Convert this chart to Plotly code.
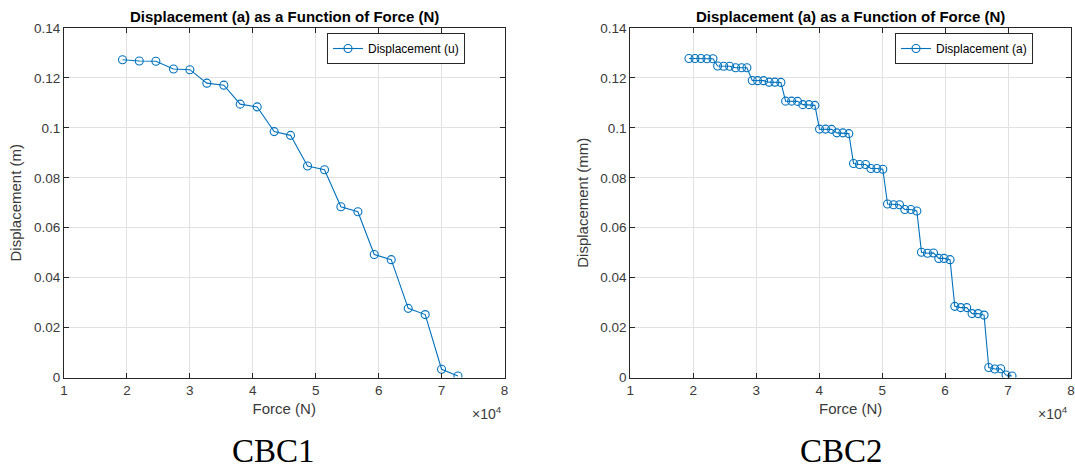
import plotly.graph_objects as go
from plotly.subplots import make_subplots

# ---------------- data ----------------
force_cbc1 = [19300, 21960, 24600, 27400, 30000, 32700, 35400, 38000, 40700, 43400, 46000,
              48700, 51400, 54000, 56700, 59300, 62000, 64700, 67400, 70000, 72600]
disp_cbc1 = [0.1273, 0.1268, 0.1267, 0.1236, 0.1233, 0.1179, 0.1171, 0.1095, 0.1084, 0.0985, 0.0970,
             0.0847, 0.0832, 0.0684, 0.0664, 0.0493, 0.0472, 0.0277, 0.0252, 0.0033, 0.0006]

force_cbc2 = [19320, 20270, 21220, 22170, 23130,
              23870, 24830, 25780, 26730, 27680, 28520,
              29370, 30220, 31170, 32060, 32970, 33920,
              34670, 35620, 36570, 37410, 38370, 39320,
              40060, 41020, 41970, 42810, 43760, 44710,
              45460, 46410, 47370, 48210, 49160, 50110,
              50860, 51810, 52760, 53600, 54560, 55510,
              56250, 57210, 58160, 59000, 59840, 60790,
              61540, 62490, 63440, 64290, 65240, 66190,
              66940, 67890, 68840, 69680, 70630]
disp_cbc2 = [0.1278, 0.1278, 0.1278, 0.1277, 0.1277,
             0.1248, 0.1247, 0.1247, 0.1241, 0.1241, 0.1241,
             0.1190, 0.1189, 0.1189, 0.1183, 0.1183, 0.1182,
             0.1107, 0.1107, 0.1106, 0.1093, 0.1093, 0.1090,
             0.0995, 0.0995, 0.0994, 0.0980, 0.0980, 0.0977,
             0.0857, 0.0853, 0.0853, 0.0837, 0.0837, 0.0834,
             0.0695, 0.0692, 0.0692, 0.0673, 0.0673, 0.0667,
             0.0502, 0.0498, 0.0499, 0.0477, 0.0477, 0.0472,
             0.0285, 0.0280, 0.0280, 0.0256, 0.0256, 0.0250,
             0.0040, 0.0034, 0.0035, 0.0010, 0.0006]

x_tickvals = [10000, 20000, 30000, 40000, 50000, 60000, 70000, 80000]
x_ticktext = ["1", "2", "3", "4", "5", "6", "7", "8"]
y_tickvals = [0, 0.02, 0.04, 0.06, 0.08, 0.1, 0.12, 0.14]
y_ticktext = ["0", "0.02", "0.04", "0.06", "0.08", "0.1", "0.12", "0.14"]

title_text = "Displacement (a) as a Function of Force (N)"
legend_names = ["Displacement (u)", "Displacement (a)"]
y_titles = ["Displacement (m)", "Displacement (mm)"]
x_title = "Force (N)"
captions = ["CBC1", "CBC2"]

# ---------------- layout constants ----------------
W, H = 1075, 468
BLUE = "#0072BD"
AX = "#262626"
TXT = "#3a3a3a"
GRID = "#e1e1e1"
FONT = "Liberation Sans, Arial, sans-serif"

left_px = [(64, 504.5), (630.3, 1071)]
caption_cx = [273, 841]
top_px, bot_px = 28, 377.5

fig = make_subplots(rows=1, cols=2)

series = [(force_cbc1, disp_cbc1), (force_cbc2, disp_cbc2)]
for i, (fx, dy) in enumerate(series):
    fig.add_trace(go.Scatter(
        x=fx, y=dy, mode="lines+markers", name=legend_names[i],
        line=dict(color=BLUE, width=1.1),
        marker=dict(symbol="circle-open", size=8, color=BLUE, line=dict(width=1.1, color=BLUE)),
        legend="legend" if i == 0 else "legend2",
    ), row=1, col=i + 1)

annotations = []
for i in range(2):
    x0, x1 = left_px[i]
    dom = [x0 / W, x1 / W]
    xa = dict(domain=dom, range=[10000, 80000], tickvals=x_tickvals, ticktext=x_ticktext,
              showgrid=True, gridcolor=GRID, gridwidth=1, zeroline=False,
              showline=True, linecolor=AX, linewidth=1, mirror="ticks",
              ticks="inside", ticklen=5, tickcolor=AX, automargin=False,
              tickfont=dict(family=FONT, size=13.5, color=TXT),
              title=dict(text=x_title, font=dict(family=FONT, size=15, color=TXT), standoff=6))
    ya = dict(domain=[1 - bot_px / H, 1 - top_px / H], range=[0, 0.14],
              tickvals=y_tickvals, ticktext=y_ticktext,
              showgrid=True, gridcolor=GRID, gridwidth=1, zeroline=False,
              showline=True, linecolor=AX, linewidth=1, mirror="ticks",
              ticks="inside", ticklen=5, tickcolor=AX, automargin=False,
              tickfont=dict(family=FONT, size=13.5, color=TXT),
              title=dict(text=y_titles[i], font=dict(family=FONT, size=15, color=TXT), standoff=8))
    if i == 0:
        fig.update_layout(xaxis=xa, yaxis=ya)
    else:
        fig.update_layout(xaxis2=xa, yaxis2=ya)

    cx = (x0 + x1) / 2 / W
    annotations.append(dict(text="<b>" + title_text + "</b>", x=cx, y=1 - 17 / H,
                            xref="paper", yref="paper", xanchor="center", yanchor="middle",
                            showarrow=False, font=dict(family=FONT, size=15, color="#000000")))
    annotations.append(dict(text="×10<sup>4</sup>", x=(x1 - 1) / W, y=1 - 413 / H,
                            xref="paper", yref="paper", xanchor="right", yanchor="middle",
                            showarrow=False, font=dict(family=FONT, size=14, color=TXT)))
    annotations.append(dict(text=captions[i], x=caption_cx[i] / W,
                            y=1 - 451 / H, xref="paper", yref="paper",
                            xanchor="center", yanchor="middle", showarrow=False,
                            font=dict(family="Liberation Serif, Times New Roman, serif", size=33,
                                      color="#000000")))

leg_common = dict(bgcolor="white", bordercolor=AX, borderwidth=1,
                  font=dict(family=FONT, size=12, color="#000000"),
                  xanchor="right", yanchor="top", y=1 - 33 / H, itemwidth=30)
fig.update_layout(
    legend=dict(x=465 / W, **leg_common),
    legend2=dict(x=1033 / W, **leg_common),
    annotations=annotations,
    width=W, height=H,
    margin=dict(l=0, r=0, t=0, b=0, autoexpand=False),
    paper_bgcolor="white", plot_bgcolor="white",
    showlegend=True,
)

fig.write_html("out.html", config={"displayModeBar": False},
               post_script="document.body.style.margin='0';document.body.style.overflow='hidden';")
